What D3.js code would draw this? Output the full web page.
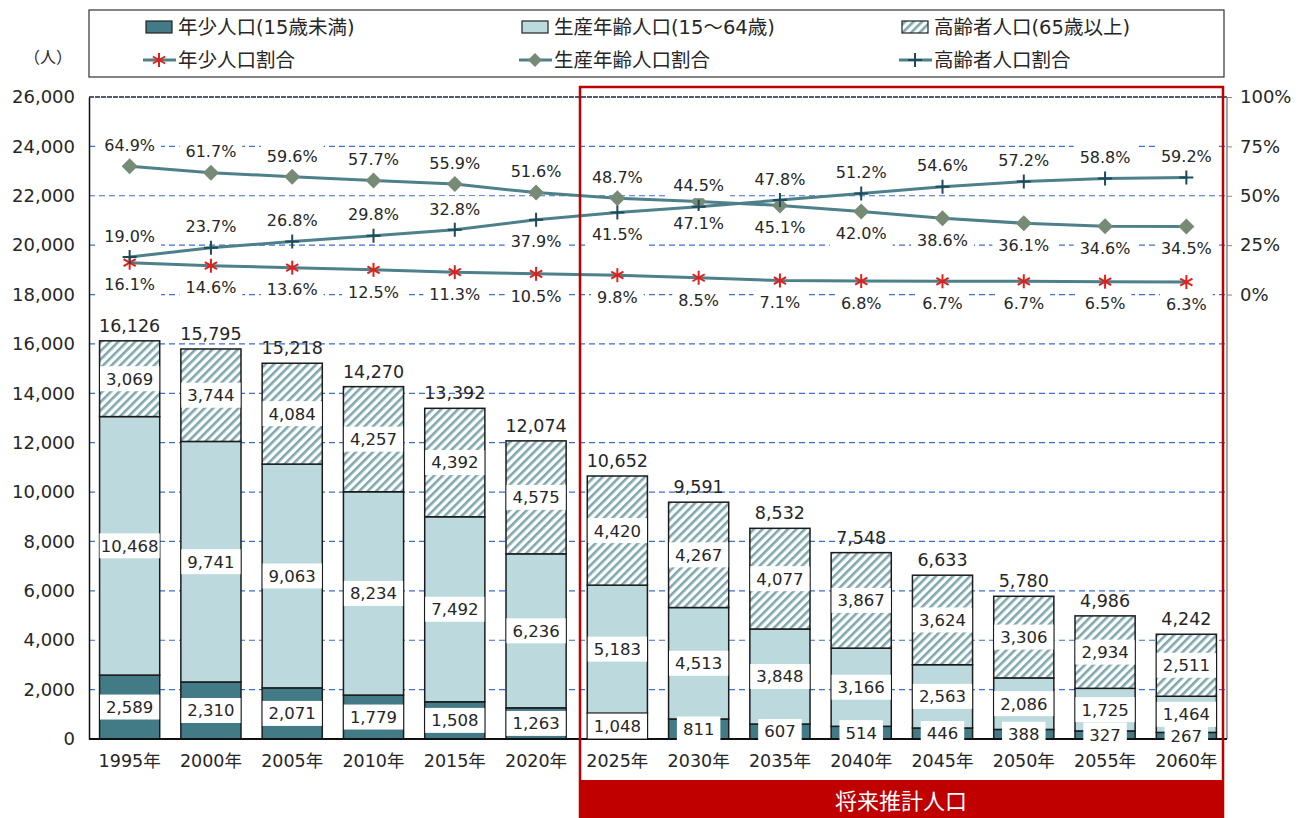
<!DOCTYPE html>
<html>
<head>
<meta charset="utf-8">
<script src="https://cdn.jsdelivr.net/npm/d3@7"></script>
<style>
  body { margin: 0; background: #fff; }
  svg { font-family: "DejaVu Sans", "Noto Sans CJK JP", sans-serif; }
</style>
</head>
<body>
<svg id="chart"></svg>
<script>
// data
var years = ["1995年","2000年","2005年","2010年","2015年","2020年","2025年","2030年","2035年","2040年","2045年","2050年","2055年","2060年"];
var youth = [2589,2310,2071,1779,1508,1263,1048,811,607,514,446,388,327,267];
var working = [10468,9741,9063,8234,7492,6236,5183,4513,3848,3166,2563,2086,1725,1464];
var elderly = [3069,3744,4084,4257,4392,4575,4420,4267,4077,3867,3624,3306,2934,2511];
var totals = [16126,15795,15218,14270,13392,12074,10652,9591,8532,7548,6633,5780,4986,4242];
var youthRate = [16.1,14.6,13.6,12.5,11.3,10.5,9.8,8.5,7.1,6.8,6.7,6.7,6.5,6.3];
var workingRate = [64.9,61.7,59.6,57.7,55.9,51.6,48.7,47.1,45.1,42.0,38.6,36.1,34.6,34.5];
var elderlyRate = [19.0,23.7,26.8,29.8,32.8,37.9,41.5,44.5,47.8,51.2,54.6,57.2,58.8,59.2];
var leftTicks = [0,2000,4000,6000,8000,10000,12000,14000,16000,18000,20000,22000,24000,26000];
var rightTicks = [0,25,50,75,100];

var width = 1304, height = 818;
var plotLeft = 89, plotRight = 1227, plotTop = 97, plotBottom = 739;

var youthColor = "#427a85";
var workColor = "#bcd9dd";
var hatchColor = "#7ea8ae";
var lineColor = "#4d8088";
var gridColor = "#3d6fd1";
var red = "#c00000";
var textColor = "#262626";

var svg = d3.select("#chart").attr("width", width).attr("height", height);

//hatch pattern for elderly
var defs = svg.append("defs");
var pat = defs.append("pattern").attr("id","hatch")
        .attr("patternUnits","userSpaceOnUse")
        .attr("width",6).attr("height",6)
        .attr("patternTransform","rotate(45)");
pat.append("rect").attr("width",6).attr("height",6).attr("fill","#fff");
pat.append("rect").attr("x",0).attr("y",0).attr("width",2.6).attr("height",6).attr("fill",hatchColor);

var x = d3.scaleBand().domain(years).range([plotLeft, plotRight]).paddingInner(0.26).paddingOuter(0.13);
var y = d3.scaleLinear().domain([0, 26000]).range([plotBottom, plotTop]);
var yp = d3.scaleLinear().domain([0, 100]).range([y(18000), plotTop]);

//grid
svg.append("g").selectAll("line").data(leftTicks.filter(d => d > 0 && d < 26000))
        .enter().append("line")
        .attr("x1", plotLeft).attr("x2", plotRight)
        .attr("y1", d => y(d)).attr("y2", d => y(d))
        .attr("stroke", gridColor).attr("stroke-width", 1.2)
        .attr("stroke-dasharray", "6,4");
svg.append("line").attr("x1", plotLeft).attr("x2", plotRight).attr("y1", plotTop).attr("y2", plotTop)
        .attr("stroke", "#1a2740").attr("stroke-width", 1.3).attr("stroke-dasharray", "5,1");

//left axis
var yAxis = d3.axisLeft(y).tickValues(leftTicks).tickSize(0).tickPadding(14).tickFormat(d3.format(","));
var gy = svg.append("g").attr("transform", "translate(" + plotLeft + ",0)").call(yAxis)
        .attr("font-family", null).attr("font-size", null);
gy.select(".domain").attr("stroke", "#111").attr("stroke-width", 1.5);
gy.selectAll("text").attr("font-size", 18).attr("fill", textColor);

//right axis
var rAxis = d3.axisRight(yp).tickValues(rightTicks).tickSize(5).tickPadding(8).tickFormat(d => d + "%");
var gr = svg.append("g").attr("transform", "translate(" + plotRight + ",0)").call(rAxis)
        .attr("font-family", null).attr("font-size", null);
gr.select(".domain").attr("d", "M0," + plotTop + "V" + plotBottom).attr("stroke", "#888").attr("stroke-width", 1.5);
gr.selectAll(".tick line").attr("stroke", "#888");
gr.selectAll("text").attr("font-size", 18).attr("fill", textColor);

svg.append("text").attr("x", 48).attr("y", 63).attr("text-anchor", "middle")
        .attr("font-size", 16).attr("fill", textColor).text("（人）");

//stacked bars
var series = [
        {key: "youth", values: youth, fill: youthColor},
        {key: "working", values: working, fill: workColor},
        {key: "elderly", values: elderly, fill: "url(#hatch)"}
];
var stacks = years.map((yr, i) => {
        let y0 = 0;
        return series.map(s => {
                let seg = {year: yr, i: i, v: s.values[i], y0: y0, y1: y0 + s.values[i], fill: s.fill};
                y0 += s.values[i];
                return seg;
        });
});
var segs = Array.prototype.concat.apply([], stacks);

var bars = svg.append("g");
bars.selectAll("rect").data(segs).enter().append("rect")
        .attr("x", d => x(d.year)).attr("width", x.bandwidth())
        .attr("y", d => y(d.y1)).attr("height", d => y(d.y0) - y(d.y1))
        .attr("fill", d => d.fill)
        .attr("stroke", "#1b1b1b").attr("stroke-width", 1.5);

//x axis
svg.append("line").attr("x1", plotLeft).attr("x2", plotRight).attr("y1", plotBottom).attr("y2", plotBottom)
        .attr("stroke", "#111").attr("stroke-width", 2);
svg.append("g").selectAll("text").data(years).enter().append("text")
        .attr("x", d => x(d) + x.bandwidth()/2).attr("y", 767)
        .attr("text-anchor", "middle").attr("font-size", 17.5).attr("fill", textColor)
        .text(d => d);

//value labels with white boxes
function boxedLabel(g, cx, cy, txt, size, maxW){
        let grp = g.append("g");
        let r = grp.append("rect").attr("fill", "#fff");
        let t = grp.append("text").attr("x", cx).attr("y", cy).attr("dy", "0.36em")
                .attr("text-anchor", "middle").attr("font-size", size).attr("fill", textColor).text(txt);
        let w = t.node().getComputedTextLength() + 12;
        if(maxW) w = Math.min(w, maxW);
        r.attr("x", cx - w/2).attr("y", cy - 12.5).attr("width", w).attr("height", 25);
}
var labels = svg.append("g");
segs.forEach(d => {
        let cy = (y(d.y0) + y(d.y1)) / 2;
        boxedLabel(labels, x(d.year) + x.bandwidth()/2, cy, d3.format(",")(d.v), 16.5, x.bandwidth());
});
svg.append("g").selectAll("text").data(totals).enter().append("text")
        .attr("x", (d, i) => x(years[i]) + x.bandwidth()/2)
        .attr("y", d => y(d) - 9)
        .attr("text-anchor", "middle").attr("font-size", 17.5).attr("fill", textColor)
        .text(d => d3.format(",")(d));

//ratio lines
var line = d3.line().x((d, i) => x(years[i]) + x.bandwidth()/2).y(d => yp(d));
[youthRate, workingRate, elderlyRate].forEach(arr => {
        svg.append("path").datum(arr).attr("d", line)
                .attr("fill", "none").attr("stroke", lineColor).attr("stroke-width", 3);
});

function drawStar(g, cx, cy, s){
        let a = [[0, s], [s*0.87, s*0.5], [s*0.87, -s*0.5]];
        a.forEach(p => g.append("line")
                .attr("x1", cx - p[0]).attr("y1", cy - p[1]).attr("x2", cx + p[0]).attr("y2", cy + p[1])
                .attr("stroke", "#e0201c").attr("stroke-width", 2));
}
function drawDiamond(g, cx, cy, s){
        g.append("path").attr("d", "M" + cx + "," + (cy - s) + "L" + (cx + s) + "," + cy + "L" + cx + "," + (cy + s) + "L" + (cx - s) + "," + cy + "Z")
                .attr("fill", "#768a76");
}
function drawPlus(g, cx, cy, s){
        g.append("path").attr("d", "M" + (cx - s) + "," + cy + "H" + (cx + s) + "M" + cx + "," + (cy - s) + "V" + (cy + s))
                .attr("stroke", "#1d4a5c").attr("stroke-width", 2);
}
var marks = svg.append("g");
years.forEach((yr, i) => {
        let cx = x(yr) + x.bandwidth()/2;
        drawStar(marks, cx, yp(youthRate[i]), 7);
        drawDiamond(marks, cx, yp(workingRate[i]), 8);
        drawPlus(marks, cx, yp(elderlyRate[i]), 7);
});

//percent labels
var pl = svg.append("g");
function pctLabel(i, v, above){
        let cx = x(years[i]) + x.bandwidth()/2;
        let cy = yp(v) + (above ? -21 : 22);
        boxedLabel(pl, cx, cy, v.toFixed(1) + "%", 16);
}
years.forEach((yr, i) => {
        pctLabel(i, youthRate[i], false);
        pctLabel(i, workingRate[i], i <= 6);
        pctLabel(i, elderlyRate[i], i < 5 || i > 6);
});

//future projection box
svg.append("rect").attr("x", 580).attr("y", 87).attr("width", 643).attr("height", 740)
        .attr("fill", "none").attr("stroke", red).attr("stroke-width", 2.5);
svg.append("rect").attr("x", 580).attr("y", 780).attr("width", 643).attr("height", 40).attr("fill", red);
svg.append("text").attr("x", 901).attr("y", 801).attr("dy", "0.36em").attr("text-anchor", "middle")
        .attr("font-size", 22).attr("fill", "#fff").text("将来推計人口");

//legend
svg.append("rect").attr("x", 89).attr("y", 10).attr("width", 1135).attr("height", 67)
        .attr("fill", "#fff").attr("stroke", "#333").attr("stroke-width", 1.2);
var legendCols = [146, 522, 902];
var barLegend = [
        {name: "年少人口(15歳未満)", fill: youthColor},
        {name: "生産年齢人口(15～64歳)", fill: workColor},
        {name: "高齢者人口(65歳以上)", fill: "url(#hatch)"}
];
var lineLegend = ["年少人口割合", "生産年齢人口割合", "高齢者人口割合"];
var lg = svg.append("g");
barLegend.forEach((d, i) => {
        lg.append("rect").attr("x", legendCols[i]).attr("y", 21).attr("width", 26).attr("height", 12)
                .attr("fill", d.fill).attr("stroke", "#222").attr("stroke-width", 1.2);
        lg.append("text").attr("x", legendCols[i] + 32).attr("y", 27).attr("dy", "0.36em")
                .attr("font-size", 19.5).attr("fill", textColor).text(d.name);
});
lineLegend.forEach((d, i) => {
        let x0 = legendCols[i] - 3;
        lg.append("line").attr("x1", x0).attr("x2", x0 + 33).attr("y1", 60).attr("y2", 60)
                .attr("stroke", lineColor).attr("stroke-width", 3);
        if(i == 0) drawStar(lg, x0 + 16, 60, 7);
        if(i == 1) drawDiamond(lg, x0 + 16, 60, 7);
        if(i == 2) drawPlus(lg, x0 + 16, 60, 7);
        lg.append("text").attr("x", x0 + 35).attr("y", 60).attr("dy", "0.36em")
                .attr("font-size", 19.5).attr("fill", textColor).text(d);
});
</script>
</body>
</html>
